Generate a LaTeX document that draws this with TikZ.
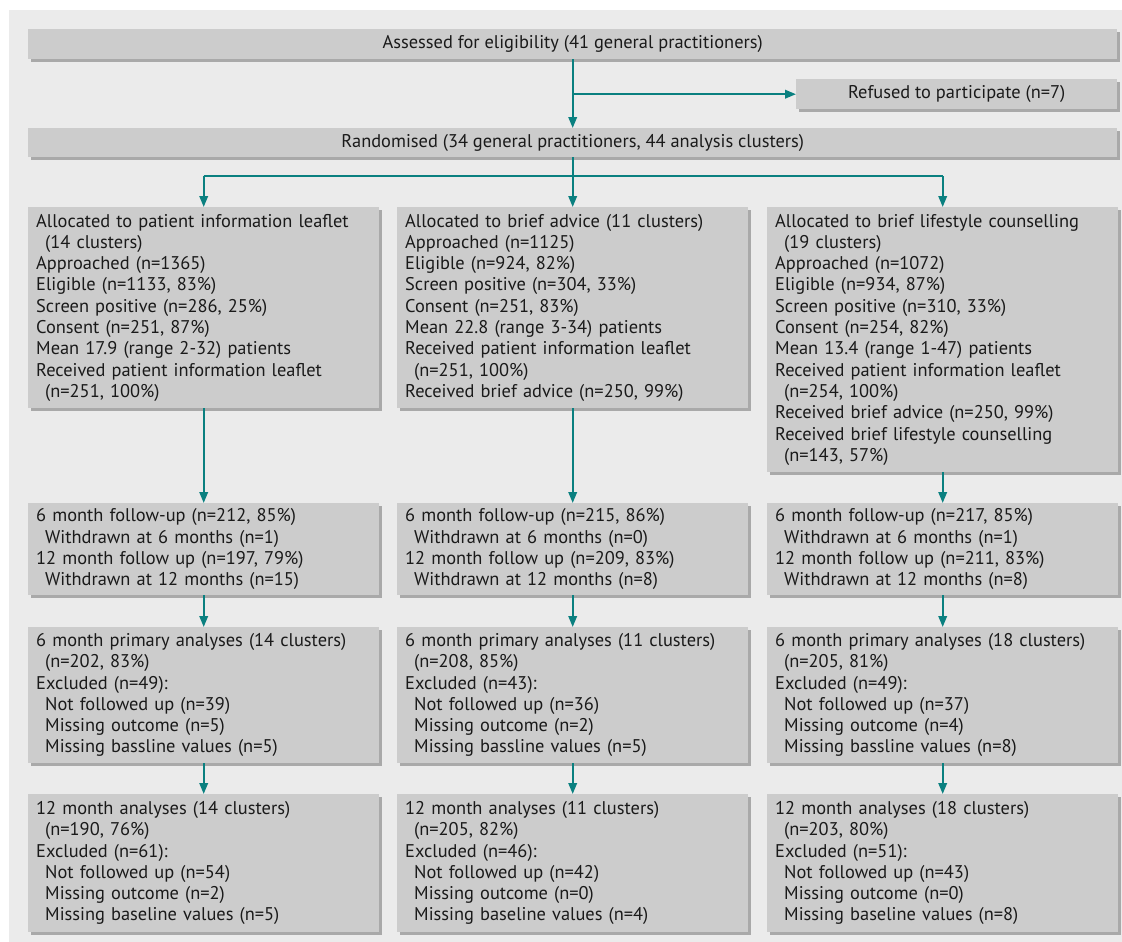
\documentclass[tikz,border=0pt]{standalone}
\usepackage{fontspec}
\setmainfont{PT Sans}
\usetikzlibrary{arrows.meta,shadows,calc}
\definecolor{panel}{HTML}{EBEBEB}
\definecolor{boxgray}{HTML}{CCCCCC}
\definecolor{shadowgray}{HTML}{A9A9A9}
\definecolor{flowteal}{HTML}{0A8080}
\definecolor{textc}{HTML}{1A1A1A}
\newcommand\myind{\hspace*{9pt}}
\begin{document}
\begin{tikzpicture}[x=1pt,y=-1pt,
  boxbase/.style={fill=boxgray, anchor=north west, inner ysep=0pt,
    drop shadow={shadow xshift=3pt,shadow yshift=-3pt,fill=shadowgray,opacity=1},
    text=textc, font=\fontsize{18.4}{21.3}\selectfont},
  wide/.style={boxbase, inner xsep=0pt, align=center},
  colbox/.style={boxbase, inner xsep=8pt, align=left},
  flow/.style={draw=flowteal, line width=2pt},
  arr/.style={flow, -{Triangle[length=11pt,width=8.5pt]}}
]
\useasboundingbox (0,0) rectangle (1122,942);
\fill[panel] (9,10) rectangle (1122,942);

\node[wide, minimum width=1089pt, minimum height=30pt] (top) at (28,29)
  {Assessed for eligibility (41 general practitioners)};
\node[wide, minimum width=321pt, minimum height=30pt] (refused) at (796,79)
  {Refused to participate (n=7)};
\node[wide, minimum width=1089pt, minimum height=29pt] (rand) at (28,128)
  {Randomised (34 general practitioners, 44 analysis clusters)};

% Row 1
\node[colbox, text width=335pt, minimum height=201pt] (c1r1) at (28,207)
  {Allocated to patient information leaflet\\
   \myind(14 clusters)\\
   Approached (n=1365)\\
   Eligible (n=1133, 83\%)\\
   Screen positive (n=286, 25\%)\\
   Consent (n=251, 87\%)\\
   Mean 17.9 (range 2-32) patients\\
   Received patient information leaflet\\
   \myind(n=251, 100\%)};
\node[colbox, text width=335pt, minimum height=201pt] (c2r1) at (397,207)
  {Allocated to brief advice (11 clusters)\\
   Approached (n=1125)\\
   Eligible (n=924, 82\%)\\
   Screen positive (n=304, 33\%)\\
   Consent (n=251, 83\%)\\
   Mean 22.8 (range 3-34) patients\\
   Received patient information leaflet\\
   \myind(n=251, 100\%)\\
   Received brief advice (n=250, 99\%)};
\node[colbox, text width=335pt, minimum height=265pt] (c3r1) at (767,207)
  {Allocated to brief lifestyle counselling\\
   \myind(19 clusters)\\
   Approached (n=1072)\\
   Eligible (n=934, 87\%)\\
   Screen positive (n=310, 33\%)\\
   Consent (n=254, 82\%)\\
   Mean 13.4 (range 1-47) patients\\
   Received patient information leaflet\\
   \myind(n=254, 100\%)\\
   Received brief advice (n=250, 99\%)\\
   Received brief lifestyle counselling\\
   \myind(n=143, 57\%)};

% Row 2
\node[colbox, text width=335pt, minimum height=92pt] (c1r2) at (28,503)
  {6 month follow-up (n=212, 85\%)\\
   \myind Withdrawn at 6 months (n=1)\\
   12 month follow up (n=197, 79\%)\\
   \myind Withdrawn at 12 months (n=15)};
\node[colbox, text width=335pt, minimum height=92pt] (c2r2) at (397,503)
  {6 month follow-up (n=215, 86\%)\\
   \myind Withdrawn at 6 months (n=0)\\
   12 month follow up (n=209, 83\%)\\
   \myind Withdrawn at 12 months (n=8)};
\node[colbox, text width=335pt, minimum height=92pt] (c3r2) at (767,503)
  {6 month follow-up (n=217, 85\%)\\
   \myind Withdrawn at 6 months (n=1)\\
   12 month follow up (n=211, 83\%)\\
   \myind Withdrawn at 12 months (n=8)};

% Row 3
\node[colbox, text width=335pt, minimum height=136pt] (c1r3) at (28,627)
  {6 month primary analyses (14 clusters)\\
   \myind(n=202, 83\%)\\
   Excluded (n=49):\\
   \myind Not followed up (n=39)\\
   \myind Missing outcome (n=5)\\
   \myind Missing bassline values (n=5)};
\node[colbox, text width=335pt, minimum height=136pt] (c2r3) at (397,627)
  {6 month primary analyses (11 clusters)\\
   \myind(n=208, 85\%)\\
   Excluded (n=43):\\
   \myind Not followed up (n=36)\\
   \myind Missing outcome (n=2)\\
   \myind Missing bassline values (n=5)};
\node[colbox, text width=335pt, minimum height=136pt] (c3r3) at (767,627)
  {6 month primary analyses (18 clusters)\\
   \myind(n=205, 81\%)\\
   Excluded (n=49):\\
   \myind Not followed up (n=37)\\
   \myind Missing outcome (n=4)\\
   \myind Missing bassline values (n=8)};

% Row 4
\node[colbox, text width=335pt, minimum height=138pt] (c1r4) at (28,794)
  {12 month analyses (14 clusters)\\
   \myind(n=190, 76\%)\\
   Excluded (n=61):\\
   \myind Not followed up (n=54)\\
   \myind Missing outcome (n=2)\\
   \myind Missing baseline values (n=5)};
\node[colbox, text width=335pt, minimum height=138pt] (c2r4) at (397,794)
  {12 month analyses (11 clusters)\\
   \myind(n=205, 82\%)\\
   Excluded (n=46):\\
   \myind Not followed up (n=42)\\
   \myind Missing outcome (n=0)\\
   \myind Missing baseline values (n=4)};
\node[colbox, text width=335pt, minimum height=138pt] (c3r4) at (767,794)
  {12 month analyses (18 clusters)\\
   \myind(n=203, 80\%)\\
   Excluded (n=51):\\
   \myind Not followed up (n=43)\\
   \myind Missing outcome (n=0)\\
   \myind Missing baseline values (n=8)};

% Connectors
\draw[arr] (top.south) -- (rand.north);
\draw[arr] (top.south |- refused.west) -- (refused.west);
\coordinate (split) at ($(rand.south)+(0,19)$);
\draw[flow] (c1r1.north |- split) -- (c3r1.north |- split);
\draw[arr] (rand.south) -- (c2r1.north);
\draw[arr] (c1r1.north |- split) -- (c1r1.north);
\draw[arr] (c3r1.north |- split) -- (c3r1.north);
\foreach \c in {1,2,3}{
  \draw[arr] (c\c r1.south) -- (c\c r2.north);
  \draw[arr] (c\c r2.south) -- (c\c r3.north);
  \draw[arr] (c\c r3.south) -- (c\c r4.north);
}
\end{tikzpicture}
\end{document}
